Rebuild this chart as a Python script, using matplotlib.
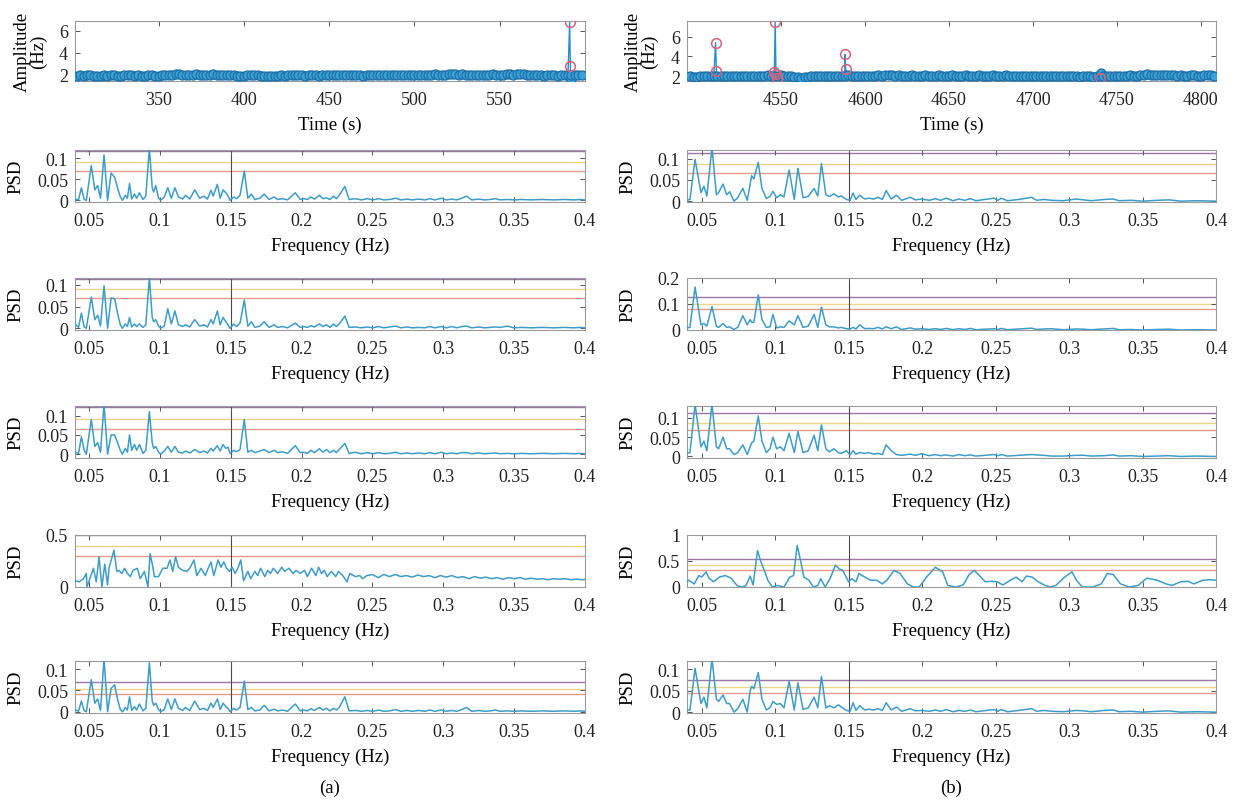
import matplotlib
matplotlib.use("Agg")
import matplotlib.pyplot as plt
import numpy as np

plt.rcParams['font.family'] = ['Liberation Serif', 'DejaVu Serif']

# ---------------- time series (instantaneous heart-rate amplitude) ----------------
t_a = list(range(302, 599, 2))
amp_a = [1.93, 1.96, 1.92, 1.95, 1.97, 1.93, 1.90, 1.94, 1.96, 1.93,
         1.95, 1.98, 1.94, 1.92, 1.96, 1.99, 1.95, 1.93, 1.97, 1.94,
         1.92, 1.95, 1.98, 1.94, 1.91, 1.95, 1.97, 1.99, 2.02, 2.05,
         2.08, 2.04, 2.01, 1.98, 2.02, 2.05, 2.01, 1.97, 2.00, 2.03,
         2.06, 2.02, 1.98, 1.95, 1.99, 2.02, 1.97, 1.92, 1.89, 1.93,
         1.97, 2.01, 2.04, 1.99, 1.94, 1.91, 1.89, 1.92, 1.90, 1.93,
         1.96, 1.94, 1.97, 2.00, 2.03, 1.99, 1.96, 1.93, 1.97, 2.00,
         1.96, 1.93, 1.96, 1.99, 2.02, 1.98, 1.95, 1.99, 2.02, 1.98,
         1.95, 1.98, 2.01, 1.97, 1.94, 1.97, 2.00, 2.03, 1.99, 1.96,
         1.99, 2.02, 1.98, 1.95, 1.98, 2.01, 2.04, 2.00, 1.97, 2.00,
         2.03, 2.00, 1.96, 1.99, 2.02, 2.05, 2.01, 1.98, 2.02, 2.06,
         2.09, 2.05, 2.02, 2.05, 2.01, 1.98, 2.01, 2.04, 2.00, 1.97,
         2.00, 2.03, 2.06, 2.02, 1.99, 2.02, 2.05, 2.08, 2.04, 2.07,
         2.10, 2.06, 2.02, 1.98, 1.95, 1.99, 1.96, 1.93, 1.97, 2.00,
         1.96, 1.93, 1.97, 2.00, 1.96, 1.99, 2.02, 1.98, 2.01]
spike_t_a = [591.0, 591.4, 591.8]
spike_v_a = [6.8, 2.8, 1.6]
flag_t_a = [591.0, 591.4]
flag_v_a = [6.8, 2.8]

t_b = list(range(4496, 4809, 2))
amp_b = [2.00, 1.95, 1.92, 1.97, 2.01, 1.98, 2.02, 2.05, 2.01, 1.98,
         2.02, 2.05, 2.01, 1.97, 2.00, 2.04, 2.01, 1.98, 2.02, 2.05,
         2.02, 1.99, 2.03, 2.06, 2.02, 1.99, 2.03, 2.06, 2.02, 2.04,
         1.98, 1.92, 1.86, 1.84, 1.88, 1.93, 1.97, 2.00, 1.97, 2.01,
         2.04, 2.00, 1.97, 2.01, 2.04, 2.00, 2.03, 2.06, 2.02, 1.99,
         2.02, 2.05, 2.01, 1.98, 2.02, 2.05, 2.08, 2.04, 2.07, 2.10,
         2.06, 2.03, 2.07, 2.03, 2.00, 2.04, 2.07, 2.03, 2.00, 2.04,
         2.07, 2.03, 2.00, 2.04, 2.07, 2.03, 2.00, 2.04, 2.07, 2.04,
         2.00, 2.03, 2.07, 2.03, 2.00, 2.04, 2.07, 2.03, 2.00, 2.03,
         2.06, 2.02, 1.99, 2.03, 2.06, 2.02, 1.99, 2.02, 2.05, 2.01,
         1.98, 2.02, 2.05, 2.01, 1.98, 2.01, 2.04, 2.00, 1.97, 2.00,
         2.03, 1.99, 1.96, 1.99, 2.02, 1.98, 1.95, 1.98, 2.01, 1.97,
         1.94, 1.97, 2.00, 1.96, 1.99, 2.02, 1.98, 2.01, 2.04, 2.00,
         2.03, 2.06, 2.02, 2.05, 2.09, 2.13, 2.17, 2.14, 2.10, 2.13,
         2.16, 2.12, 2.08, 2.11, 2.07, 2.04, 2.08, 2.05, 2.02, 2.06,
         2.09, 2.05, 2.02, 2.06, 2.09, 2.06, 2.03]
spike_t_b = [4511.0, 4511.5, 4546.0, 4546.5, 4547.0, 4547.5, 4588.0, 4588.5, 4740.0, 4740.5]
spike_v_b = [5.4, 2.5, 2.4, 7.5, 2.2, 1.8, 4.2, 2.7, 1.8, 2.3]
flag_t_b = [4511.0, 4511.5, 4546.0, 4546.5, 4547.0, 4547.5, 4588.0, 4588.5, 4740.0]
flag_v_b = [5.4, 2.5, 2.4, 7.5, 2.2, 1.8, 4.2, 2.7, 1.8]

# ---------------- power spectral densities, column (a) ----------------
freq_a = [0.040, 0.0425, 0.0445, 0.0465, 0.048, 0.0515, 0.054, 0.056, 0.058, 0.0605,
          0.063, 0.0655, 0.068, 0.070, 0.072, 0.0735, 0.0755, 0.077, 0.0785, 0.080,
          0.082, 0.0835, 0.0855, 0.088, 0.090, 0.0925, 0.0945, 0.0955, 0.097, 0.099,
          0.1005, 0.103, 0.1055, 0.108, 0.1105, 0.113, 0.116, 0.118, 0.121, 0.1245,
          0.128, 0.131, 0.1335, 0.136, 0.1375, 0.1405, 0.1425, 0.1445, 0.1465, 0.148,
          0.1495, 0.152, 0.154, 0.1565, 0.1595, 0.162, 0.1645, 0.167, 0.1705, 0.1735,
          0.177, 0.1805, 0.183, 0.1865, 0.190, 0.1955, 0.199, 0.2015, 0.204, 0.2065,
          0.209, 0.2125, 0.215, 0.2175, 0.220, 0.2225, 0.2245, 0.2265, 0.2305, 0.2335,
          0.238, 0.242, 0.2465, 0.250, 0.2545, 0.258, 0.262, 0.2665, 0.270, 0.2745,
          0.278, 0.2825, 0.287, 0.2905, 0.294, 0.2985, 0.302, 0.306, 0.3095, 0.313,
          0.3165, 0.320, 0.325, 0.329, 0.333, 0.337, 0.340, 0.345, 0.350, 0.355,
          0.362, 0.370, 0.378, 0.385, 0.392, 0.397, 0.400]
psd_a1 = [0.003, 0.001, 0.030, 0.002, 0.000, 0.083, 0.025, 0.035, 0.005, 0.108,
          0.000, 0.065, 0.055, 0.030, 0.008, 0.000, 0.012, 0.005, 0.040, 0.003,
          0.015, 0.005, 0.018, 0.002, 0.010, 0.125, 0.030, 0.020, 0.035, 0.005,
          0.000, 0.008, 0.030, 0.005, 0.030, 0.008, 0.003, 0.012, 0.003, 0.025,
          0.005, 0.010, 0.003, 0.024, 0.010, 0.038, 0.005, 0.025, 0.018, 0.010,
          0.000, 0.008, 0.004, 0.012, 0.070, 0.005, 0.015, 0.002, 0.005, 0.015,
          0.002, 0.008, 0.002, 0.004, 0.001, 0.018, 0.002, 0.004, 0.002, 0.008,
          0.003, 0.012, 0.004, 0.006, 0.002, 0.010, 0.004, 0.012, 0.033, 0.002,
          0.004, 0.001, 0.004, 0.001, 0.004, 0.001, 0.002, 0.005, 0.001, 0.003,
          0.001, 0.003, 0.001, 0.004, 0.001, 0.005, 0.001, 0.003, 0.001, 0.005,
          0.010, 0.001, 0.003, 0.001, 0.002, 0.004, 0.001, 0.002, 0.001, 0.002,
          0.001, 0.002, 0.001, 0.002, 0.001, 0.002, 0.001]
psd_a2 = [0.010, 0.002, 0.035, 0.003, 0.000, 0.072, 0.020, 0.030, 0.005, 0.098,
          0.000, 0.070, 0.068, 0.035, 0.008, 0.000, 0.010, 0.004, 0.025, 0.003,
          0.010, 0.004, 0.010, 0.002, 0.008, 0.118, 0.025, 0.015, 0.020, 0.005,
          0.000, 0.005, 0.045, 0.010, 0.040, 0.008, 0.004, 0.008, 0.003, 0.020,
          0.005, 0.008, 0.003, 0.020, 0.010, 0.040, 0.008, 0.025, 0.015, 0.008,
          0.000, 0.010, 0.004, 0.012, 0.065, 0.005, 0.015, 0.002, 0.005, 0.015,
          0.002, 0.008, 0.002, 0.004, 0.001, 0.012, 0.002, 0.004, 0.002, 0.006,
          0.003, 0.010, 0.004, 0.008, 0.002, 0.010, 0.004, 0.010, 0.028, 0.002,
          0.003, 0.001, 0.003, 0.001, 0.004, 0.001, 0.003, 0.005, 0.001, 0.003,
          0.001, 0.002, 0.001, 0.004, 0.001, 0.004, 0.001, 0.004, 0.001, 0.004,
          0.005, 0.001, 0.003, 0.001, 0.002, 0.003, 0.002, 0.005, 0.001, 0.002,
          0.001, 0.002, 0.001, 0.002, 0.001, 0.002, 0.001]
psd_a3 = [0.005, 0.002, 0.045, 0.010, 0.000, 0.090, 0.020, 0.030, 0.005, 0.130,
          0.000, 0.050, 0.050, 0.030, 0.010, 0.000, 0.015, 0.005, 0.050, 0.010,
          0.025, 0.010, 0.025, 0.002, 0.010, 0.110, 0.030, 0.015, 0.020, 0.005,
          0.000, 0.008, 0.020, 0.005, 0.020, 0.005, 0.003, 0.008, 0.003, 0.012,
          0.004, 0.008, 0.003, 0.015, 0.008, 0.022, 0.008, 0.025, 0.015, 0.018,
          0.002, 0.010, 0.006, 0.012, 0.090, 0.005, 0.010, 0.004, 0.008, 0.012,
          0.004, 0.010, 0.004, 0.006, 0.002, 0.022, 0.004, 0.005, 0.002, 0.010,
          0.004, 0.014, 0.005, 0.012, 0.004, 0.010, 0.004, 0.012, 0.028, 0.002,
          0.005, 0.001, 0.004, 0.001, 0.004, 0.001, 0.002, 0.005, 0.001, 0.003,
          0.001, 0.003, 0.001, 0.004, 0.001, 0.005, 0.001, 0.003, 0.001, 0.004,
          0.004, 0.001, 0.003, 0.001, 0.002, 0.003, 0.001, 0.002, 0.001, 0.002,
          0.001, 0.002, 0.001, 0.002, 0.001, 0.002, 0.001]
psd_a5 = [0.005, 0.001, 0.025, 0.002, 0.000, 0.075, 0.020, 0.030, 0.003, 0.125,
          0.000, 0.055, 0.063, 0.030, 0.005, 0.000, 0.010, 0.004, 0.035, 0.003,
          0.012, 0.004, 0.018, 0.002, 0.008, 0.115, 0.025, 0.015, 0.020, 0.005,
          0.000, 0.005, 0.030, 0.005, 0.030, 0.008, 0.003, 0.010, 0.003, 0.025,
          0.005, 0.008, 0.003, 0.020, 0.010, 0.030, 0.005, 0.020, 0.012, 0.008,
          0.000, 0.008, 0.004, 0.010, 0.072, 0.005, 0.010, 0.002, 0.004, 0.015,
          0.002, 0.006, 0.002, 0.004, 0.001, 0.018, 0.002, 0.004, 0.002, 0.007,
          0.003, 0.010, 0.004, 0.008, 0.002, 0.008, 0.004, 0.010, 0.035, 0.002,
          0.003, 0.001, 0.003, 0.001, 0.004, 0.001, 0.002, 0.005, 0.001, 0.003,
          0.001, 0.003, 0.001, 0.004, 0.001, 0.004, 0.001, 0.003, 0.001, 0.005,
          0.010, 0.001, 0.003, 0.001, 0.002, 0.004, 0.001, 0.002, 0.001, 0.002,
          0.001, 0.002, 0.001, 0.002, 0.001, 0.002, 0.001]
freq_a4 = [0.040, 0.043, 0.046, 0.048, 0.0485, 0.051, 0.053, 0.055, 0.057, 0.059,
           0.061, 0.063, 0.064, 0.0675, 0.0695, 0.071, 0.073, 0.075, 0.077, 0.079,
           0.081, 0.084, 0.086, 0.089, 0.0915, 0.093, 0.095, 0.096, 0.099, 0.102,
           0.105, 0.107, 0.109, 0.111, 0.113, 0.116, 0.119, 0.121, 0.124, 0.126,
           0.129, 0.132, 0.134, 0.136, 0.138, 0.141, 0.143, 0.145, 0.147, 0.149,
           0.151, 0.153, 0.155, 0.157, 0.159, 0.162, 0.164, 0.167, 0.169, 0.171,
           0.174, 0.176, 0.178, 0.180, 0.183, 0.186, 0.188, 0.191, 0.194, 0.196,
           0.199, 0.202, 0.204, 0.207, 0.210, 0.212, 0.214, 0.216, 0.218, 0.221,
           0.224, 0.226, 0.229, 0.232, 0.234, 0.238, 0.241, 0.243, 0.246, 0.250,
           0.254, 0.258, 0.262, 0.266, 0.270, 0.274, 0.278, 0.282, 0.286, 0.290,
           0.294, 0.298, 0.302, 0.306, 0.310, 0.314, 0.318, 0.322, 0.326, 0.330,
           0.334, 0.338, 0.342, 0.346, 0.350, 0.354, 0.358, 0.362, 0.366, 0.370,
           0.374, 0.378, 0.382, 0.386, 0.390, 0.394, 0.398, 0.400]
psd_a4 = [0.060, 0.050, 0.080, 0.130, 0.000, 0.100, 0.180, 0.050, 0.290, 0.000,
          0.220, 0.020, 0.180, 0.355, 0.150, 0.160, 0.130, 0.180, 0.130, 0.100,
          0.160, 0.180, 0.080, 0.150, 0.000, 0.320, 0.190, 0.100, 0.100, 0.180,
          0.180, 0.260, 0.150, 0.290, 0.190, 0.160, 0.150, 0.180, 0.260, 0.110,
          0.180, 0.110, 0.180, 0.240, 0.110, 0.260, 0.190, 0.240, 0.180, 0.150,
          0.190, 0.130, 0.180, 0.260, 0.060, 0.150, 0.080, 0.150, 0.110, 0.180,
          0.100, 0.160, 0.130, 0.180, 0.130, 0.190, 0.150, 0.180, 0.130, 0.160,
          0.130, 0.160, 0.100, 0.180, 0.110, 0.190, 0.130, 0.160, 0.100, 0.150,
          0.100, 0.150, 0.110, 0.050, 0.130, 0.100, 0.110, 0.080, 0.110, 0.120,
          0.090, 0.120, 0.100, 0.120, 0.100, 0.110, 0.095, 0.115, 0.100, 0.110,
          0.090, 0.110, 0.095, 0.110, 0.090, 0.100, 0.080, 0.100, 0.085, 0.095,
          0.080, 0.090, 0.075, 0.090, 0.080, 0.090, 0.075, 0.085, 0.075, 0.080,
          0.070, 0.080, 0.075, 0.080, 0.070, 0.075, 0.070, 0.075]

# ---------------- power spectral densities, column (b) ----------------
freq_b = [0.040, 0.042, 0.0455, 0.0495, 0.0515, 0.0535, 0.057, 0.060, 0.0615, 0.0645,
          0.067, 0.069, 0.072, 0.0745, 0.078, 0.081, 0.083, 0.084, 0.0855, 0.0885,
          0.091, 0.094, 0.0965, 0.0985, 0.101, 0.1035, 0.106, 0.1095, 0.113, 0.1155,
          0.119, 0.1225, 0.1265, 0.129, 0.1315, 0.1345, 0.137, 0.140, 0.143, 0.145,
          0.1485, 0.151, 0.153, 0.155, 0.1575, 0.161, 0.1635, 0.167, 0.170, 0.173,
          0.1755, 0.179, 0.1825, 0.186, 0.192, 0.1955, 0.1995, 0.205, 0.209, 0.2125,
          0.2165, 0.221, 0.225, 0.229, 0.233, 0.2365, 0.249, 0.2515, 0.254, 0.258,
          0.266, 0.2745, 0.278, 0.283, 0.288, 0.296, 0.305, 0.310, 0.315, 0.324,
          0.330, 0.334, 0.342, 0.350, 0.360, 0.368, 0.376, 0.387, 0.400]
psd_b1 = [0.002, 0.004, 0.098, 0.020, 0.035, 0.012, 0.125, 0.015, 0.020, 0.040,
          0.015, 0.022, 0.000, 0.008, 0.030, 0.002, 0.040, 0.060, 0.052, 0.091,
          0.030, 0.006, 0.011, 0.023, 0.008, 0.015, 0.010, 0.073, 0.004, 0.077,
          0.008, 0.011, 0.030, 0.012, 0.088, 0.015, 0.011, 0.017, 0.010, 0.012,
          0.004, 0.002, 0.019, 0.004, 0.014, 0.005, 0.007, 0.005, 0.009, 0.004,
          0.025, 0.005, 0.014, 0.002, 0.009, 0.003, 0.005, 0.002, 0.006, 0.002,
          0.007, 0.001, 0.005, 0.002, 0.006, 0.001, 0.007, 0.002, 0.007, 0.001,
          0.004, 0.009, 0.002, 0.004, 0.002, 0.001, 0.005, 0.003, 0.001, 0.004,
          0.005, 0.001, 0.002, 0.000, 0.002, 0.003, 0.000, 0.001, 0.000]
psd_b2 = [0.008, 0.010, 0.165, 0.020, 0.025, 0.015, 0.090, 0.015, 0.010, 0.025,
          0.010, 0.012, 0.002, 0.010, 0.055, 0.020, 0.040, 0.030, 0.030, 0.135,
          0.040, 0.010, 0.012, 0.060, 0.008, 0.012, 0.010, 0.035, 0.020, 0.055,
          0.010, 0.015, 0.060, 0.010, 0.088, 0.020, 0.012, 0.012, 0.008, 0.010,
          0.005, 0.004, 0.010, 0.004, 0.020, 0.005, 0.006, 0.005, 0.010, 0.004,
          0.012, 0.005, 0.012, 0.002, 0.008, 0.003, 0.005, 0.002, 0.005, 0.002,
          0.006, 0.001, 0.005, 0.002, 0.006, 0.001, 0.005, 0.002, 0.006, 0.001,
          0.004, 0.007, 0.002, 0.004, 0.005, 0.001, 0.004, 0.003, 0.001, 0.004,
          0.006, 0.001, 0.002, 0.000, 0.002, 0.003, 0.000, 0.001, 0.000]
psd_b3 = [0.008, 0.010, 0.135, 0.025, 0.040, 0.015, 0.135, 0.025, 0.020, 0.050,
          0.020, 0.020, 0.005, 0.010, 0.030, 0.005, 0.025, 0.035, 0.040, 0.105,
          0.040, 0.010, 0.020, 0.050, 0.020, 0.025, 0.015, 0.060, 0.010, 0.065,
          0.010, 0.015, 0.055, 0.015, 0.082, 0.020, 0.012, 0.020, 0.010, 0.008,
          0.015, 0.004, 0.015, 0.006, 0.010, 0.008, 0.010, 0.006, 0.008, 0.005,
          0.030, 0.015, 0.005, 0.003, 0.006, 0.003, 0.007, 0.002, 0.005, 0.002,
          0.004, 0.001, 0.005, 0.002, 0.004, 0.001, 0.005, 0.002, 0.005, 0.001,
          0.003, 0.005, 0.004, 0.003, 0.001, 0.001, 0.003, 0.003, 0.001, 0.002,
          0.004, 0.001, 0.002, 0.000, 0.001, 0.002, 0.000, 0.001, 0.000]
psd_b5 = [0.004, 0.005, 0.102, 0.020, 0.035, 0.010, 0.125, 0.030, 0.025, 0.040,
          0.020, 0.020, 0.000, 0.008, 0.030, 0.000, 0.050, 0.060, 0.055, 0.092,
          0.030, 0.005, 0.010, 0.025, 0.018, 0.020, 0.010, 0.072, 0.005, 0.068,
          0.006, 0.010, 0.035, 0.010, 0.083, 0.010, 0.015, 0.010, 0.017, 0.012,
          0.004, 0.002, 0.022, 0.004, 0.015, 0.005, 0.007, 0.005, 0.008, 0.004,
          0.022, 0.005, 0.012, 0.002, 0.008, 0.003, 0.004, 0.002, 0.005, 0.002,
          0.006, 0.001, 0.004, 0.002, 0.005, 0.001, 0.006, 0.002, 0.006, 0.001,
          0.004, 0.008, 0.002, 0.004, 0.002, 0.001, 0.004, 0.003, 0.001, 0.004,
          0.005, 0.001, 0.002, 0.000, 0.002, 0.003, 0.000, 0.001, 0.000]
freq_b4 = [0.038, 0.041, 0.045, 0.048, 0.050, 0.053, 0.055, 0.058, 0.062, 0.066,
           0.070, 0.074, 0.077, 0.080, 0.083, 0.085, 0.088, 0.090, 0.093, 0.095,
           0.098, 0.1015, 0.106, 0.110, 0.1125, 0.115, 0.1175, 0.1195, 0.123, 0.126,
           0.129, 0.131, 0.134, 0.1375, 0.141, 0.1435, 0.146, 0.150, 0.152, 0.155,
           0.157, 0.161, 0.165, 0.169, 0.173, 0.176, 0.181, 0.185, 0.190, 0.194,
           0.198, 0.203, 0.209, 0.214, 0.2175, 0.223, 0.228, 0.232, 0.2355, 0.239,
           0.243, 0.247, 0.251, 0.255, 0.260, 0.264, 0.268, 0.271, 0.275, 0.279,
           0.283, 0.287, 0.291, 0.297, 0.302, 0.305, 0.309, 0.316, 0.322, 0.326,
           0.330, 0.335, 0.341, 0.347, 0.353, 0.360, 0.366, 0.370, 0.376, 0.381,
           0.385, 0.391, 0.396, 0.400]
psd_b4 = [0.06, 0.13, 0.06, 0.22, 0.19, 0.29, 0.17, 0.10, 0.19, 0.22,
          0.17, 0.03, 0.00, 0.02, 0.21, 0.04, 0.70, 0.51, 0.29, 0.13,
          0.00, 0.03, 0.00, 0.19, 0.22, 0.80, 0.48, 0.19, 0.13, 0.00,
          0.03, 0.16, 0.00, 0.17, 0.42, 0.35, 0.32, 0.10, 0.16, 0.10,
          0.26, 0.19, 0.13, 0.13, 0.06, 0.13, 0.32, 0.26, 0.06, 0.00,
          0.00, 0.19, 0.38, 0.29, 0.03, 0.00, 0.04, 0.24, 0.32, 0.22,
          0.10, 0.11, 0.10, 0.04, 0.13, 0.19, 0.10, 0.21, 0.19, 0.10,
          0.04, 0.00, 0.03, 0.19, 0.29, 0.13, 0.00, 0.00, 0.06, 0.26,
          0.24, 0.06, 0.00, 0.03, 0.17, 0.13, 0.06, 0.03, 0.10, 0.11,
          0.06, 0.13, 0.14, 0.13]

# threshold levels per panel: (purple, yellow, red)
levels_a = [(0.1185, 0.091, 0.071), (0.1145, 0.091, 0.070), (0.1235, 0.0906, 0.0665),
            (0.498, 0.394, 0.300), (0.069, 0.054, 0.041)]
levels_b = [(0.112, 0.086, 0.067), (0.126, 0.100, 0.079), (0.1127, 0.0864, 0.068),
            (0.53, 0.42, 0.33), (0.0746, 0.059, 0.0446)]
ylims_a = [(-0.004, 0.120), (-0.004, 0.116), (-0.010, 0.125), (0.0, 0.5), (-0.003, 0.119)]
ylims_b = [(-0.002, 0.120), (0.0, 0.2), (-0.004, 0.131), (0.0, 1.0), (-0.002, 0.119)]
yticks_a = [[0, 0.05, 0.1], [0, 0.05, 0.1], [0, 0.05, 0.1], [0, 0.5], [0, 0.05, 0.1]]
yticks_b = [[0, 0.05, 0.1], [0, 0.1, 0.2], [0, 0.05, 0.1], [0, 0.5, 1], [0, 0.05, 0.1]]
freq_ticks = [0.05, 0.1, 0.15, 0.2, 0.25, 0.3, 0.35, 0.4]

# ---------------- layout ----------------
W, H = 1239, 803
fig = plt.figure(figsize=(W / 100, H / 100), dpi=100)

COLS = [(75, 585), (687, 1216)]
TOP_ROW = (22, 82)
PSD_TOPS = [151, 279, 407, 536, 662]
PSD_H = 52

BLUE = '#3d9cc8'
EDGE = '#9a9a9a'
FS_TICK = 13
FS_LAB = 13.5


def add_ax(x0, x1, y0, y1):
    return fig.add_axes([x0 / W, 1 - y1 / H, (x1 - x0) / W, (y1 - y0) / H])


def style(ax):
    for s in ax.spines.values():
        s.set_color(EDGE)
        s.set_linewidth(0.8)
    ax.tick_params(direction='in', length=3.5, width=0.7, color='#555555',
                   top=True, right=True, labelsize=FS_TICK, labelcolor='#222222')
    ax.tick_params(axis='x', pad=7)
    ax.tick_params(axis='y', pad=5)


def fmt(v):
    return ('%g' % v)


# time-series panels
ts = [(t_a, amp_a, spike_t_a, spike_v_a, flag_t_a, flag_v_a, (301, 600), (1.45, 6.9),
       [350, 400, 450, 500, 550]),
      (t_b, amp_b, spike_t_b, spike_v_b, flag_t_b, flag_v_b, (4494, 4809), (1.5, 7.6),
       [4550, 4600, 4650, 4700, 4750, 4800])]
for (x0, x1), (tt, vv, st, sv, ft, fv, xl, yl, xt) in zip(COLS, ts):
    ax = add_ax(x0, x1, *TOP_ROW)
    style(ax)
    order = np.argsort(list(tt) + list(st), kind='stable')
    t_all = np.array(list(tt) + list(st))[order]
    v_all = np.array(list(vv) + list(sv))[order]
    ax.plot(t_all, v_all, '-', color='#2a8fc9', lw=1.0, zorder=2)
    # blue markers on every sample that is not flagged as an outlier
    keep = [i for i in range(len(t_all))
            if not any(abs(t_all[i] - a) < 1e-9 and abs(v_all[i] - b) < 1e-9 for a, b in zip(ft, fv))]
    ax.plot(t_all[keep], v_all[keep], 'o', ms=6.5, mfc='#3da0d6', mec='#1c6fa6', mew=0.9, zorder=3)
    ax.plot(ft, fv, 'o', ms=7, mfc='none', mec='#d9607a', mew=1.1, zorder=4)
    ax.set_xlim(*xl)
    ax.set_ylim(*yl)
    ax.set_xticks(xt)
    ax.set_yticks([2, 4, 6])
    ax.set_xlabel('Time (s)', fontsize=FS_LAB, labelpad=6)
    ax.set_ylabel('Amplitude\n(Hz)', fontsize=FS_LAB, linespacing=0.95)
    ax.yaxis.set_label_coords(-0.054, 0.5)

# spectral panels
spectra_a = [(freq_a, psd_a1), (freq_a, psd_a2), (freq_a, psd_a3), (freq_a4, psd_a4), (freq_a, psd_a5)]
spectra_b = [(freq_b, psd_b1), (freq_b, psd_b2), (freq_b, psd_b3), (freq_b4, psd_b4), (freq_b, psd_b5)]
label_x = [-0.1, -0.096]
for c, ((x0, x1), spectra, levels, ylims, yticks) in enumerate(zip(
        COLS, [spectra_a, spectra_b], [levels_a, levels_b], [ylims_a, ylims_b], [yticks_a, yticks_b])):
    for i, top in enumerate(PSD_TOPS):
        ax = add_ax(x0, x1, top, top + PSD_H)
        style(ax)
        f, p = spectra[i]
        lp, ly, lr = levels[i]
        ax.axhline(lp, color='#9b77a8', lw=1.0, zorder=1)
        ax.axhline(ly, color='#eed48a', lw=1.0, zorder=1)
        ax.axhline(lr, color='#e39a86', lw=1.0, zorder=1)
        ax.axvline(0.15, color='#4a4a4a', lw=0.8, zorder=1)
        ax.plot(f, p, color=BLUE, lw=1.1, zorder=3, solid_joinstyle='round')
        ax.set_xlim(0.04, 0.4)
        ax.set_ylim(*ylims[i])
        ax.set_xticks(freq_ticks)
        ax.set_xticklabels([fmt(v) for v in freq_ticks])
        ax.set_yticks(yticks[i])
        ax.set_yticklabels([fmt(v) for v in yticks[i]])
        ax.set_xlabel('Frequency (Hz)', fontsize=FS_LAB, labelpad=6)
        ax.set_ylabel('PSD', fontsize=FS_LAB)
        ax.yaxis.set_label_coords(label_x[c], 0.5)

fig.text((COLS[0][0] + COLS[0][1]) / 2 / W, 1 - 788 / H, '(a)', ha='center', va='center', fontsize=13.5)
fig.text((COLS[1][0] + COLS[1][1]) / 2 / W, 1 - 788 / H, '(b)', ha='center', va='center', fontsize=13.5)

fig.savefig('out.png', dpi=100, facecolor='white')
